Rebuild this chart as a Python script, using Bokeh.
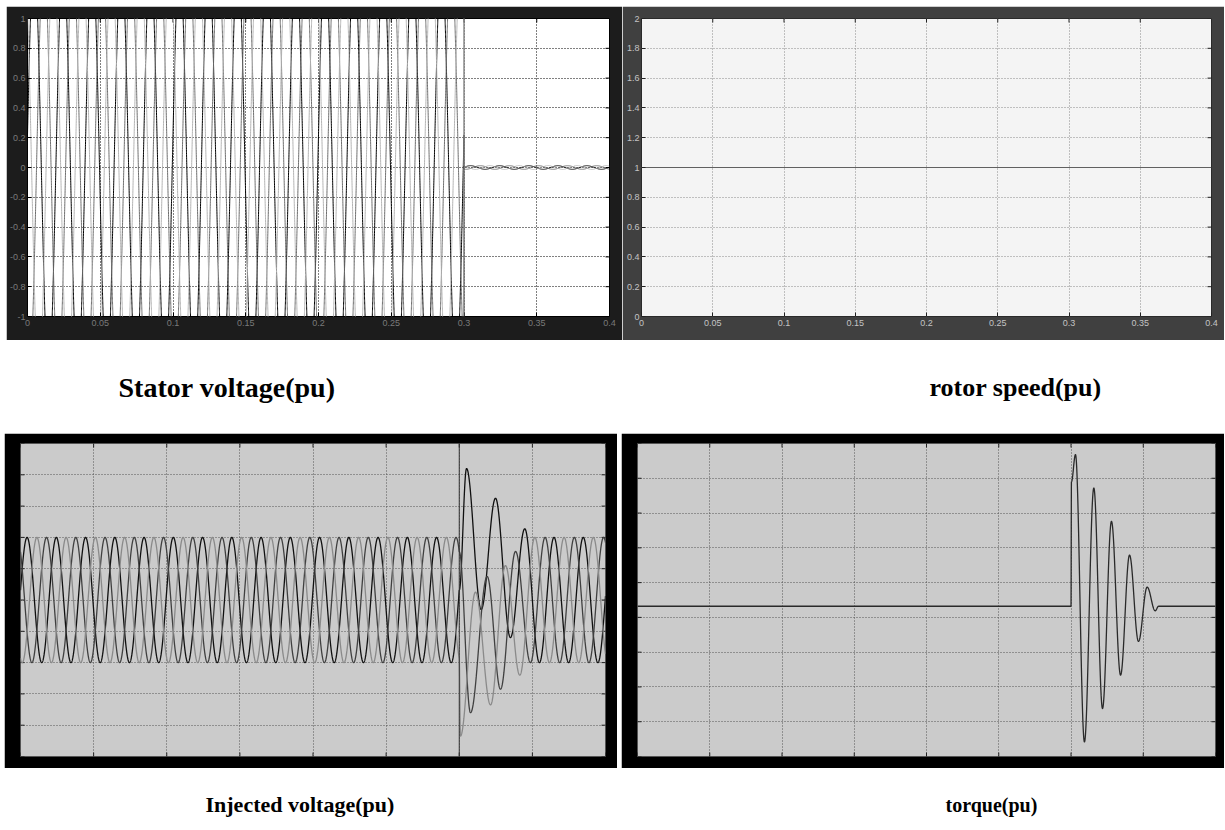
import numpy as np
from bokeh.plotting import figure
from bokeh.layouts import column, row
from bokeh.models import Span, FixedTicker, Label, Range1d, Spacer
from bokeh.embed import file_html
from bokeh.resources import INLINE

# ------------------------------------------------------------------ data
T_START, T_END = 0.0, 0.4
FAULT_T = 0.3
X_TICKS = [0.0, 0.05, 0.1, 0.15, 0.2, 0.25, 0.3, 0.35, 0.4]
X_TICK_LABELS = ["0", "0.05", "0.1", "0.15", "0.2", "0.25", "0.3", "0.35", "0.4"]

STATOR_Y_TICKS = [-1.0, -0.8, -0.6, -0.4, -0.2, 0.0, 0.2, 0.4, 0.6, 0.8, 1.0]
STATOR_Y_LABELS = ["-1", "-0.8", "-0.6", "-0.4", "-0.2", "0", "0.2", "0.4", "0.6", "0.8", "1"]
SPEED_Y_TICKS = [0.0, 0.2, 0.4, 0.6, 0.8, 1.0, 1.2, 1.4, 1.6, 1.8, 2.0]
SPEED_Y_LABELS = ["0", "0.2", "0.4", "0.6", "0.8", "1", "1.2", "1.4", "1.6", "1.8", "2"]
INJ_Y_TICKS = [-1.0, -0.8, -0.6, -0.4, -0.2, 0.0, 0.2, 0.4, 0.6, 0.8, 1.0]
TORQUE_Y_TICKS = [-4, -3, -2, -1, 0, 1, 2, 3, 4, 5]

# Stator voltage (pu): three-phase 50 Hz wave running past the +/-1 axis, collapses at the fault
STATOR_FREQ = 50.0
STATOR_AMP = 1.4
STATOR_PEAK_T = [0.0045, 0.0112, 0.0178]
STATOR_POST_AMP = 0.012
STATOR_COLORS = ["#000000", "#6e6e6e", "#b4b4b4"]

# Rotor speed (pu)
SPEED_T = [0.0, 0.4]
SPEED_V = [1.0, 1.0]

# Injected voltage (pu): 50 Hz, amplitude 0.4, transient extrema after the fault
INJ_FREQ = 50.0
INJ_AMP = 0.4
INJ_PEAK_T = [0.0045, 0.0178, 0.0112]
INJ_EXT_T_A = [0.3050, 0.3150, 0.3248, 0.3350, 0.3448, 0.3548]
INJ_EXT_V_A = [0.84, -0.06, 0.65, -0.24, 0.455, -0.40]
INJ_EXT_T_B = [0.3077, 0.3191, 0.3282, 0.3385, 0.3487]
INJ_EXT_V_B = [-0.72, 0.15, -0.57, 0.31, -0.40]
INJ_EXT_T_C = [0.3008, 0.3111, 0.3214, 0.3316, 0.3414, 0.3517]
INJ_EXT_V_C = [-0.87, 0.05, -0.67, 0.22, -0.48, 0.40]
INJ_COLORS = ["#101010", "#404040", "#8a8a8a"]

# Torque (pu): steady value and oscillation extrema after the fault
TORQUE_T = [0.0, 0.3000, 0.3003, 0.3031, 0.3093, 0.3158, 0.3218, 0.3280, 0.3343,
            0.3405, 0.3467, 0.3527, 0.3583, 0.3606, 0.4]
TORQUE_V = [0.32, 0.32, 3.9, 4.68, -3.58, 3.72, -2.62, 2.76, -1.66,
            1.79, -0.69, 0.87, 0.19, 0.32, 0.32]

CAPTIONS = ["Stator voltage(pu)", "rotor speed(pu)", "Injected voltage(pu)", "torque(pu)"]

# ------------------------------------------------------------------ helpers
T = np.linspace(T_START, T_END, 16001)


def smooth_through(ext_t, ext_v, t):
    """Half-cosine path through the read extrema."""
    ext_t = np.asarray(ext_t, float)
    ext_v = np.asarray(ext_v, float)
    i = np.clip(np.searchsorted(ext_t, t, side="right") - 1, 0, len(ext_t) - 2)
    t0, t1 = ext_t[i], ext_t[i + 1]
    v0, v1 = ext_v[i], ext_v[i + 1]
    s = np.clip((t - t0) / (t1 - t0), 0, 1)
    return v0 + (v1 - v0) * (1 - np.cos(np.pi * s)) / 2


def scope(width, height, borders, frame_fill, plot_bg, y_lo, y_hi, y_ticks, grid_color,
          tick_color, outline_color, x_labels=None, y_labels=None, label_color="#888888"):
    p = figure(width=width, height=height, x_range=Range1d(T_START, T_END),
               y_range=Range1d(y_lo, y_hi), output_backend="svg", toolbar_location=None,
               min_border_left=borders[0], min_border_right=borders[1],
               min_border_top=borders[2], min_border_bottom=borders[3])
    p.border_fill_color = frame_fill
    p.background_fill_color = plot_bg
    p.outline_line_color = outline_color
    p.xaxis.ticker = FixedTicker(ticks=X_TICKS)
    p.yaxis.ticker = FixedTicker(ticks=y_ticks)
    for ax in p.axis:
        ax.major_tick_in = 4
        ax.major_tick_out = 0
        ax.minor_tick_line_color = None
        ax.axis_line_color = None
        ax.major_tick_line_color = tick_color
        ax.major_label_text_font = "Liberation Sans"
        ax.major_label_text_font_size = "9px"
        ax.major_label_text_color = label_color
    if x_labels:
        p.xaxis.major_label_overrides = {t: l for t, l in zip(X_TICKS, x_labels)}
        p.xaxis.major_label_standoff = 3
    else:
        p.xaxis.visible = False
    if y_labels:
        p.yaxis.major_label_overrides = {t: l for t, l in zip(y_ticks, y_labels)}
        p.yaxis.major_label_standoff = 2
    else:
        p.yaxis.visible = False
    p.grid.grid_line_color = grid_color
    p.grid.grid_line_dash = "1 2"
    p.grid.grid_line_width = 1
    # inward tick marks on the sides that carry no labels
    p.scatter([T_END] * len(y_ticks), y_ticks, marker="dash", size=8,
              line_color=tick_color, line_width=1)
    p.scatter(X_TICKS, [y_hi] * len(X_TICKS), marker="dash", angle=np.pi / 2,
              size=8, line_color=tick_color, line_width=1)
    if not y_labels:
        p.scatter([T_START] * len(y_ticks), y_ticks, marker="dash", size=8,
                  line_color=tick_color, line_width=1)
    if not x_labels:
        p.scatter(X_TICKS, [y_lo] * len(X_TICKS), marker="dash", angle=np.pi / 2,
                  size=8, line_color=tick_color, line_width=1)
    return p


# ------------------------------------------------------------------ stator voltage
p1 = scope(616, 334, (20, 13, 9, 24), "#1c1c1c", "#ffffff", -1, 1, STATOR_Y_TICKS,
           "#000000", "#000000", "#000000", X_TICK_LABELS, STATOR_Y_LABELS, "#7a7a7a")
pre = T <= FAULT_T
for pk, col in zip(STATOR_PEAK_T, STATOR_COLORS):
    v = np.where(pre,
                 STATOR_AMP * np.cos(2 * np.pi * STATOR_FREQ * (T - pk)),
                 STATOR_POST_AMP * np.cos(2 * np.pi * STATOR_FREQ * (T - pk)))
    p1.line(T, v, line_color=col, line_width=1)
p1.add_layout(Span(location=FAULT_T, dimension="height", line_color="#777777", line_width=1))

# ------------------------------------------------------------------ rotor speed
p2 = scope(602, 334, (19, 13, 12, 15), "#404040", "#f4f4f4", 0, 2, SPEED_Y_TICKS,
           "#8a8a8a", "#222222", "#2a2a2a", X_TICK_LABELS, SPEED_Y_LABELS, "#c4c4c4")
p2.line(SPEED_T, SPEED_V, line_color="#606060", line_width=1.2)

# ------------------------------------------------------------------ injected voltage
p3 = scope(613, 335, (16, 12, 10, 12), "#000000", "#cbcbcb", -1, 1, INJ_Y_TICKS,
           "#555555", "#222222", "#555555")
for pk, et, ev, col in zip(INJ_PEAK_T, [INJ_EXT_T_A, INJ_EXT_T_B, INJ_EXT_T_C],
                           [INJ_EXT_V_A, INJ_EXT_V_B, INJ_EXT_V_C], INJ_COLORS):
    v_pre = INJ_AMP * np.cos(2 * np.pi * INJ_FREQ * (T - pk))
    v_fault = INJ_AMP * np.cos(2 * np.pi * INJ_FREQ * (FAULT_T - pk))
    tr_t = [FAULT_T] + list(et)
    tr_v = [v_fault] + list(ev)
    v_tr = smooth_through(tr_t, tr_v, T)
    v_post = ev[-1] * np.cos(2 * np.pi * INJ_FREQ * (T - et[-1]))
    v = np.where(T <= FAULT_T, v_pre, np.where(T <= et[-1], v_tr, v_post))
    p3.line(T, v, line_color=col, line_width=1.3)
p3.add_layout(Span(location=FAULT_T, dimension="height", line_color="#333333", line_width=1))

# ------------------------------------------------------------------ torque
p4 = scope(603, 335, (16, 9, 8, 8), "#000000", "#cbcbcb", -4, 5, TORQUE_Y_TICKS,
           "#555555", "#222222", "#555555")
p4.line(T, smooth_through(TORQUE_T, TORQUE_V, T), line_color="#2a2a2a", line_width=1.3)


# ------------------------------------------------------------------ captions
def caption(width, height, items):
    c = figure(width=width, height=height, output_backend="svg", toolbar_location=None,
               title=None, x_axis_location=None, y_axis_location=None, min_border=0,
               x_range=Range1d(0, width), y_range=Range1d(0, height))
    c.grid.visible = False
    c.outline_line_color = None
    for txt, x, y, size in items:
        c.add_layout(Label(x=x, y=y, text=txt,
                           text_font="Liberation Serif", text_font_style="bold",
                           text_font_size=size, text_color="#000000",
                           text_baseline="alphabetic", text_align="left"))
    return c


cap1 = caption(1224, 93, [(CAPTIONS[0], 118, 46, "28px"), (CAPTIONS[1], 929, 46, "26px")])
cap2 = caption(1224, 56, [(CAPTIONS[2], 205, 20, "22px"), (CAPTIONS[3], 945, 20, "20px")])

layout = column(
    Spacer(width=1224, height=6),
    row(Spacer(width=6, height=334), p1, p2),
    cap1,
    row(Spacer(width=4, height=335), p3, Spacer(width=4, height=335), p4),
    cap2,
)
open("out.html", "w").write(file_html(layout, INLINE))
